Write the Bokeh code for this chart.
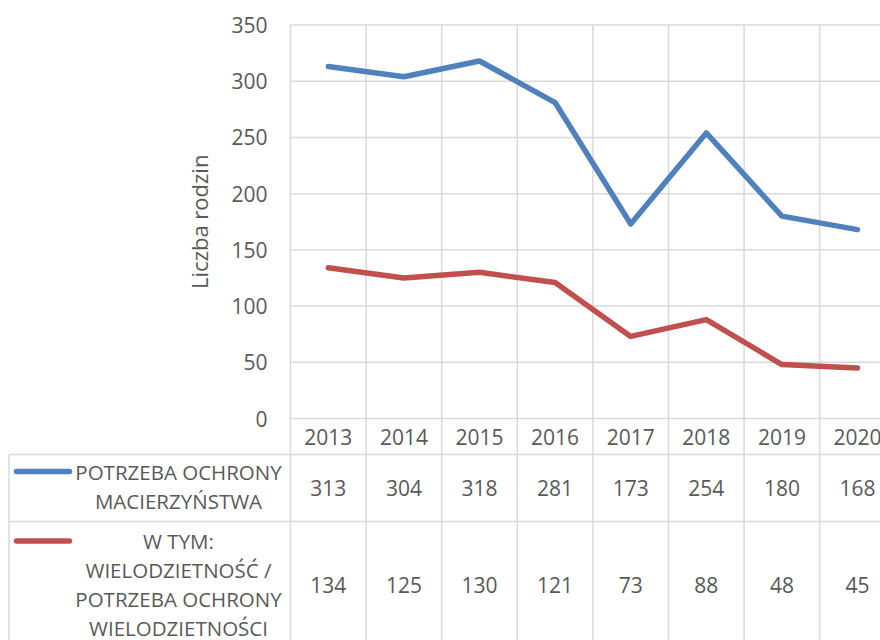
import math
from bokeh.plotting import figure
from bokeh.models import Range1d
from bokeh.core.properties import value
from bokeh.embed import file_html
from bokeh.resources import INLINE

# ---- data ----
years = ["2013", "2014", "2015", "2016", "2017", "2018", "2019", "2020"]
ochrona_macierzynstwa = [313, 304, 318, 281, 173, 254, 180, 168]
wielodzietnosc = [134, 125, 130, 121, 73, 88, 48, 45]
name_1 = ["POTRZEBA OCHRONY", "MACIERZYŃSTWA"]
name_2 = ["W TYM:", "WIELODZIETNOŚĆ /", "POTRZEBA OCHRONY", "WIELODZIETNOŚCI"]
y_ticks = [0, 50, 100, 150, 200, 250, 300, 350]
y_label = "Liczba rodzin"

# ---- style / layout ----
BLUE = "#4F81BD"
RED = "#C0504D"
GRID = "#D9D9D9"
TXT = "#595959"
FONT = "Open Sans"
FS_NUM = "21px"
FS_LBL = "20.5px"
FS_AX = "22px"
W, H = 880, 640
COL_W = 75.6            # px per category column
PLOT_LEFT = 290         # px, left edge of the plot area
ZERO_Y = 418            # px, y of the zero line
PX = 350 / 393.5        # value units per px (vertical)
LINE_H = 29             # table text line height (px)

n = len(years)
idx = list(range(n))
bounds = [i - 0.5 for i in range(n + 1)]
x_start = -0.5 - PLOT_LEFT / COL_W
x_end = -0.5 + (W - PLOT_LEFT) / COL_W


def dx(px):
    return px / COL_W


def ybelow(px):
    return -px * PX


p = figure(width=W, height=H, x_range=Range1d(x_start, x_end),
           y_range=Range1d(ybelow(H - ZERO_Y), ZERO_Y * PX),
           min_border_left=0, min_border_right=0, min_border_top=0, min_border_bottom=0,
           x_axis_location=None, y_axis_location=None, output_backend="svg",
           toolbar_location=None, outline_line_color=None,
           background_fill_color="white", border_fill_color="white")
p.xgrid.visible = False
p.ygrid.visible = False

# grid of plot area + table
top_v = y_ticks[-1]
HDR = 36
ROW1_END = 103
ROW2_END = 232
p.segment(x0=[-0.5] * len(y_ticks), y0=y_ticks, x1=[x_end] * len(y_ticks), y1=y_ticks,
          line_color=GRID, line_width=1.5)
p.segment(x0=bounds, y0=[top_v] * len(bounds), x1=bounds, y1=[ybelow(ROW2_END)] * len(bounds),
          line_color=GRID, line_width=1.5)
left_edge = x_start + dx(8.5)
p.segment(x0=[left_edge] * 3, y0=[ybelow(HDR), ybelow(ROW1_END), ybelow(HDR)],
          x1=[x_end, x_end, left_edge], y1=[ybelow(HDR), ybelow(ROW1_END), ybelow(ROW2_END)],
          line_color=GRID, line_width=1.5)

# y tick labels and axis title
p.text(x=[-0.5 - dx(23)] * len(y_ticks), y=y_ticks, text=[str(t) for t in y_ticks],
       text_font=value(FONT), text_font_size=FS_NUM, text_color=TXT,
       text_align="right", text_baseline="middle")
p.text(x=[-0.5 - dx(92)], y=[(y_ticks[0] + y_ticks[-1]) / 2], text=[y_label], angle=math.pi / 2,
       text_font=value(FONT), text_font_size=FS_AX, text_color=TXT,
       text_align="center", text_baseline="middle")

# series
p.line(idx, ochrona_macierzynstwa, line_color=BLUE, line_width=5.5, line_cap="round", line_join="round")
p.line(idx, wielodzietnosc, line_color=RED, line_width=5.5, line_cap="round", line_join="round")

# data table
tkw = dict(text_font=value(FONT), text_font_size=FS_NUM, text_color=TXT, text_align="center",
           text_baseline="middle")
p.text(x=idx, y=[ybelow(HDR / 2)] * n, text=years, **tkw)
r1c = 69
r2c = 166
p.text(x=idx, y=[ybelow(r1c)] * n, text=[str(v) for v in ochrona_macierzynstwa], **tkw)
p.text(x=idx, y=[ybelow(r2c)] * n, text=[str(v) for v in wielodzietnosc], **tkw)

lkw = dict(tkw, text_font_size=FS_LBL)
label_x = -0.5 - dx(112)
key_x0 = -0.5 - dx(274)
key_x1 = -0.5 - dx(221)
for names, cy, col in ((name_1, r1c - 1.5, BLUE), (name_2, r2c, RED)):
    ys = [ybelow(cy + (k - (len(names) - 1) / 2) * LINE_H) for k in range(len(names))]
    p.text(x=[label_x] * len(names), y=ys, text=names, **lkw)
    p.line([key_x0, key_x1], [ys[0], ys[0]], line_color=col, line_width=5.5, line_cap="round")

open("out.html", "w").write(file_html(p, INLINE))
